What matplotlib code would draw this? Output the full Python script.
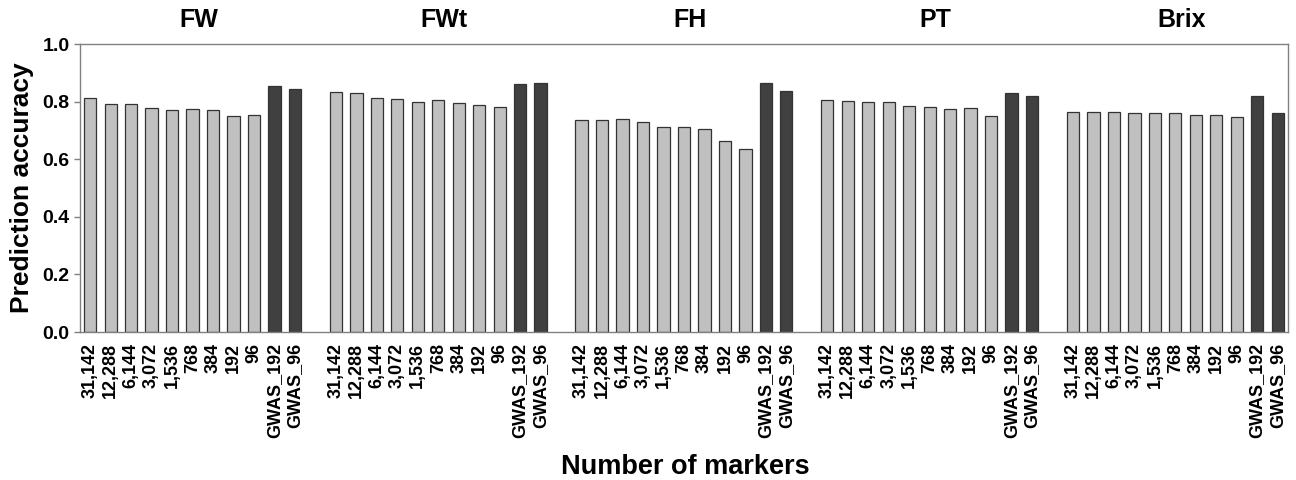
"""
Prediction accuracy by number of markers for five traits.
"""

import matplotlib
matplotlib.use("Agg")
import matplotlib.pyplot as plt
import numpy as np

plt.rcParams["font.family"] = ["Liberation Sans", "DejaVu Sans"]
plt.rcParams["font.weight"] = "bold"

# --- Data ---
traits = ["FW", "FWt", "FH", "PT", "Brix"]
marker_labels = ["31,142", "12,288", "6,144", "3,072", "1,536", "768",
                 "384", "192", "96", "GWAS_192", "GWAS_96"]
is_gwas = [False] * 9 + [True] * 2

fw = [0.811, 0.793, 0.793, 0.779, 0.771, 0.773, 0.771, 0.751, 0.753, 0.854, 0.845]
fwt = [0.834, 0.829, 0.812, 0.808, 0.800, 0.806, 0.796, 0.787, 0.782, 0.860, 0.863]
fh = [0.737, 0.735, 0.740, 0.729, 0.711, 0.712, 0.704, 0.664, 0.635, 0.866, 0.838]
pt = [0.806, 0.801, 0.797, 0.797, 0.784, 0.781, 0.774, 0.779, 0.749, 0.830, 0.819]
brix = [0.763, 0.763, 0.765, 0.762, 0.759, 0.759, 0.752, 0.755, 0.747, 0.818, 0.759]
accuracy = [fw, fwt, fh, pt, brix]

# --- Style ---
LIGHT = "#c0c0c0"
DARK = "#404040"
EDGE = "#333333"
SPINE = "#808080"

fig = plt.figure(figsize=(12.96, 4.8), dpi=100)
ax = fig.add_axes([0.0617, 0.3083, 0.9321, 0.6])

n = len(marker_labels)
xticks, xlabels = [], []
for g, (trait, vals) in enumerate(zip(traits, accuracy)):
    x = np.arange(n) + g * (n + 1)
    colors = [DARK if gw else LIGHT for gw in is_gwas]
    ax.bar(x, vals, width=0.6, color=colors, edgecolor=EDGE, linewidth=0.9)
    xticks.extend(x)
    xlabels.extend(marker_labels)
    ax.text(x.mean() + 0.3, 1.085, trait, ha="center", va="center",
            fontsize=18, fontweight="bold", transform=ax.transData)

ax.set_xlim(-0.5, 5 * n + 4 - 0.5)
ax.set_ylim(0, 1.0)
ax.set_yticks(np.arange(0, 1.01, 0.2))
ax.set_yticklabels([f"{v:.1f}" for v in np.arange(0, 1.01, 0.2)],
                   fontsize=14, fontweight="bold")
ax.set_xticks(xticks)
ax.set_xticklabels(xlabels, rotation=90, fontsize=13, fontweight="bold")
ax.tick_params(axis="x", length=0, pad=8)
ax.tick_params(axis="y", length=4, color=SPINE, width=1)

for s in ax.spines.values():
    s.set_color(SPINE)
    s.set_linewidth(1)

ax.set_ylabel("Prediction accuracy", fontsize=19, fontweight="bold", labelpad=6)
fig.text(0.529, 0.028, "Number of markers", ha="center", va="center",
         fontsize=19.5, fontweight="bold")

fig.savefig("out.png", dpi=100, facecolor="white")
